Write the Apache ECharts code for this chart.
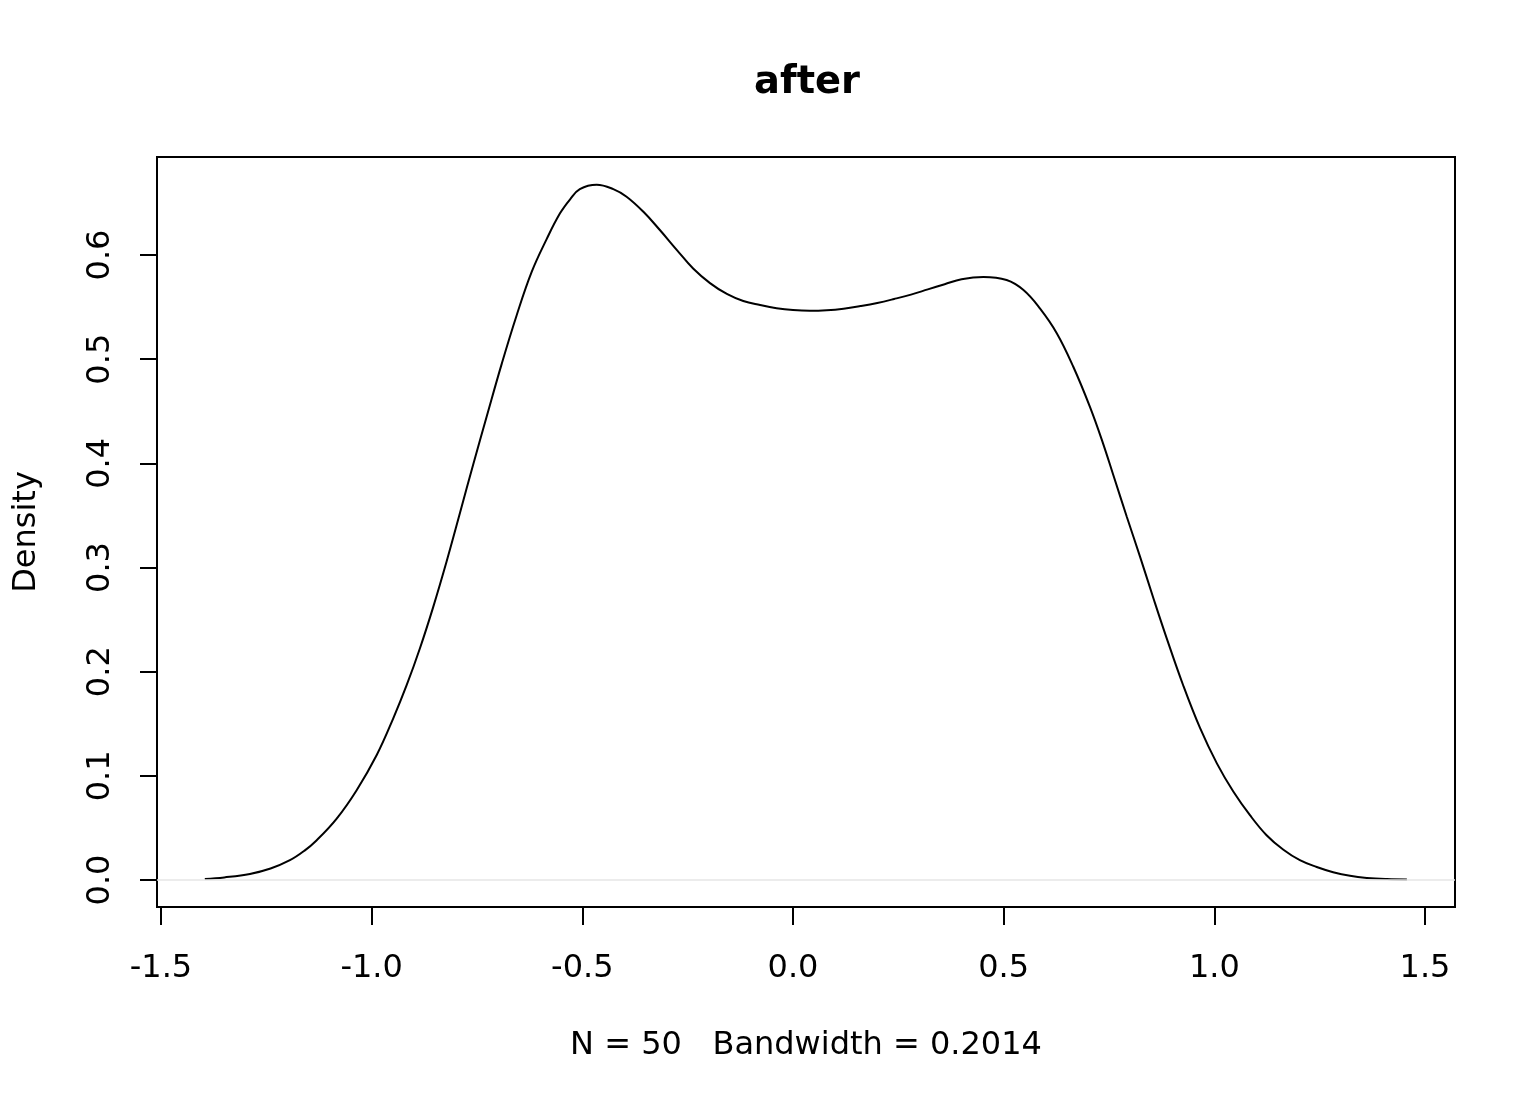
<!DOCTYPE html>
<html>
<head>
<meta charset="utf-8">
<script src="https://cdn.jsdelivr.net/npm/echarts@6/dist/echarts.min.js"></script>
<style>
  html, body { margin: 0; padding: 0; background: #ffffff; }
  #chart { width: 1536px; height: 1104px; }
</style>
</head>
<body>
<div id="chart"></div>
<script>
// Density estimate (x value, density)
const densityX = [
  -1.396, -1.350, -1.289, -1.240, -1.194, -1.160, -1.131, -1.083, -1.036, -0.988,
  -0.949, -0.917, -0.885, -0.854, -0.822, -0.790, -0.759, -0.727, -0.691, -0.656,
  -0.620, -0.585, -0.553, -0.529, -0.506, -0.466, -0.4265, -0.395, -0.355,
  -0.316, -0.276, -0.237, -0.197, -0.157, -0.118, -0.078, -0.039, 0.000, 0.040,
  0.080, 0.120, 0.160, 0.200, 0.240, 0.280, 0.320, 0.360, 0.400, 0.452,
  0.507, 0.547, 0.586, 0.626, 0.665, 0.705, 0.736, 0.760, 0.792,
  0.824, 0.855, 0.887, 0.926, 0.966, 1.006, 1.045, 1.085, 1.124, 1.164,
  1.203, 1.243, 1.282, 1.322, 1.362, 1.410, 1.457
];
const densityY = [
  0.0010, 0.0025, 0.0058, 0.011, 0.019, 0.028, 0.038, 0.059, 0.086, 0.120,
  0.155, 0.187, 0.223, 0.262, 0.306, 0.353, 0.399, 0.445, 0.496, 0.542,
  0.584, 0.615, 0.640, 0.6535, 0.6633, 0.6675, 0.6633, 0.656, 0.6415,
  0.624, 0.605, 0.587, 0.573, 0.5626, 0.5558, 0.552, 0.549, 0.5472, 0.5465,
  0.5470, 0.5485, 0.551, 0.554, 0.5578, 0.562, 0.567, 0.572, 0.5768, 0.579,
  0.576, 0.5664, 0.5488, 0.525, 0.493, 0.454, 0.419, 0.389, 0.349,
  0.310, 0.271, 0.232, 0.187, 0.146, 0.112, 0.085, 0.062, 0.043, 0.029,
  0.019, 0.0125, 0.0075, 0.004, 0.002, 0.0009, 0.0005
];
const xTicks = [-1.5, -1.0, -0.5, 0.0, 0.5, 1.0, 1.5];
const yTicks = [0.0, 0.1, 0.2, 0.3, 0.4, 0.5, 0.6];
const titleText = 'after';
const xLabel = 'N = 50   Bandwidth = 0.2014';
const yLabel = 'Density';

const seriesData = densityX.map((x, i) => [x, densityY[i]]);

const chart = echarts.init(document.getElementById('chart'), null, { renderer: 'canvas' });
const FONT = 'DejaVu Sans';
chart.setOption({
  backgroundColor: '#ffffff',
  animation: false,
  title: {
    text: titleText,
    left: 802,
    top: 59,
    textAlign: 'center',
    textStyle: { fontFamily: FONT, fontSize: 38.4, fontWeight: 'bold', color: '#000' }
  },
  grid: {
    left: 157, top: 157, width: 1298, height: 750,
    show: true, borderColor: '#000', borderWidth: 2, backgroundColor: 'transparent'
  },
  xAxis: {
    type: 'value',
    min: -1.5095, max: 1.5712,
    axisLine: { show: false, onZero: false },
    splitLine: { show: false },
    axisTick: { show: true, inside: false, customValues: xTicks, length: 18, lineStyle: { color: '#000', width: 2 } },
    axisLabel: {
      customValues: xTicks, margin: 46,
      formatter: v => v.toFixed(1),
      fontFamily: FONT, fontSize: 32, color: '#000'
    },
    name: xLabel, nameLocation: 'middle', nameGap: 123,
    nameTextStyle: { fontFamily: FONT, fontSize: 32, color: '#000' }
  },
  yAxis: {
    type: 'value',
    min: -0.0259, max: 0.6941,
    axisLine: { show: false, onZero: false },
    splitLine: { show: false },
    axisTick: { show: true, inside: false, customValues: yTicks, length: 17, lineStyle: { color: '#000', width: 2 } },
    axisLabel: {
      customValues: yTicks, margin: 40, rotate: 90,
      formatter: v => v.toFixed(1),
      fontFamily: FONT, fontSize: 32, color: '#000'
    },
    name: yLabel, nameLocation: 'middle', nameGap: 114,
    nameTextStyle: { fontFamily: FONT, fontSize: 32, color: '#000' }
  },
  series: [{
    type: 'line',
    data: seriesData,
    smooth: 0.4,
    showSymbol: false,
    lineStyle: { color: '#000', width: 2 },
    markLine: {
      silent: true, symbol: 'none', label: { show: false },
      lineStyle: { color: '#e6e6e6', width: 1.5, type: 'solid' },
      data: [{ yAxis: 0 }]
    }
  }]
});
</script>
</body>
</html>
